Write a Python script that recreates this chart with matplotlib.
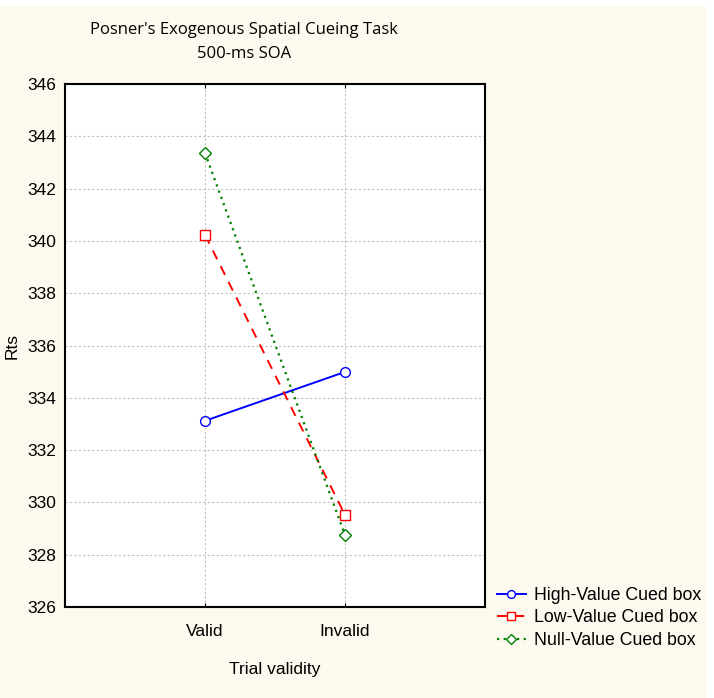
import matplotlib
matplotlib.use('Agg')
from matplotlib import pyplot as plt
from matplotlib.patches import Rectangle

categories = ['Valid', 'Invalid']
high_value = [333.12, 334.99]
low_value = [340.23, 329.52]
null_value = [343.36, 328.75]
yticks = [326, 328, 330, 332, 334, 336, 338, 340, 342, 344, 346]

plt.rcParams['font.family'] = ['Liberation Sans', 'DejaVu Sans']

fig = plt.figure(figsize=(7.14, 6.98), dpi=100)
fig.patch.set_facecolor('white')
fig.patches.append(Rectangle((0, 0), 707 / 714, 692 / 698, transform=fig.transFigure,
                             facecolor='#fdf9ee', edgecolor='none', zorder=-10))

ax = fig.add_axes([65 / 714, 91 / 698, 420 / 714, 523 / 698])
ax.set_facecolor('white')

x = [1, 2]
ax.plot(x, high_value, color='#0000ff', linestyle='-', lw=1.4, marker='o', markersize=7,
        markerfacecolor='white', markeredgecolor='#0000ff', markeredgewidth=1.0,
        label='High-Value Cued box')
ax.plot(x, low_value, color='#ff0000', linestyle=(0, (5, 4)), lw=1.4, marker='s', markersize=7,
        markerfacecolor='white', markeredgecolor='#ff0000', markeredgewidth=1.0,
        label='Low-Value Cued box')
ax.plot(x, null_value, color='#008000', linestyle=(0, (1, 2)), lw=1.6, marker='D', markersize=6,
        markerfacecolor='white', markeredgecolor='#008000', markeredgewidth=1.0,
        label='Null-Value Cued box')

ax.set_xlim(0, 3)
ax.set_ylim(326, 346)
ax.set_xticks(x)
ax.set_xticklabels(categories, fontsize=12.5)
ax.set_yticks(yticks)
ax.tick_params(axis='y', labelsize=12.5, direction='in', length=0, pad=6)
ax.tick_params(axis='x', direction='in', length=3, top=True, pad=12, color='black')
ax.grid(True, color='#c0c0c0', linestyle=(0, (2, 2)), lw=0.8)
for s in ax.spines.values():
    s.set_linewidth(1.5)

ax.set_xlabel('Trial validity', fontsize=12.5, labelpad=17)
ax.set_ylabel('Rts', fontsize=12.5, labelpad=6)

fig.text(244 / 714, 1 - 30 / 698, "Posner's Exogenous Spatial Cueing Task", ha='center', va='center',
         fontsize=12, family=['Open Sans', 'DejaVu Sans'])
fig.text(244 / 714, 1 - 54 / 698, '500-ms SOA', ha='center', va='center',
         fontsize=12, family=['Open Sans', 'DejaVu Sans'])

fig.legend(loc='upper left', bbox_to_anchor=(490 / 714, 1 - 580 / 698), frameon=False,
           fontsize=12.8, handlelength=1.6, handletextpad=0.5, labelspacing=0.3,
           markerscale=0.8, borderaxespad=0)

fig.savefig('out.png', dpi=100, facecolor=fig.get_facecolor())
